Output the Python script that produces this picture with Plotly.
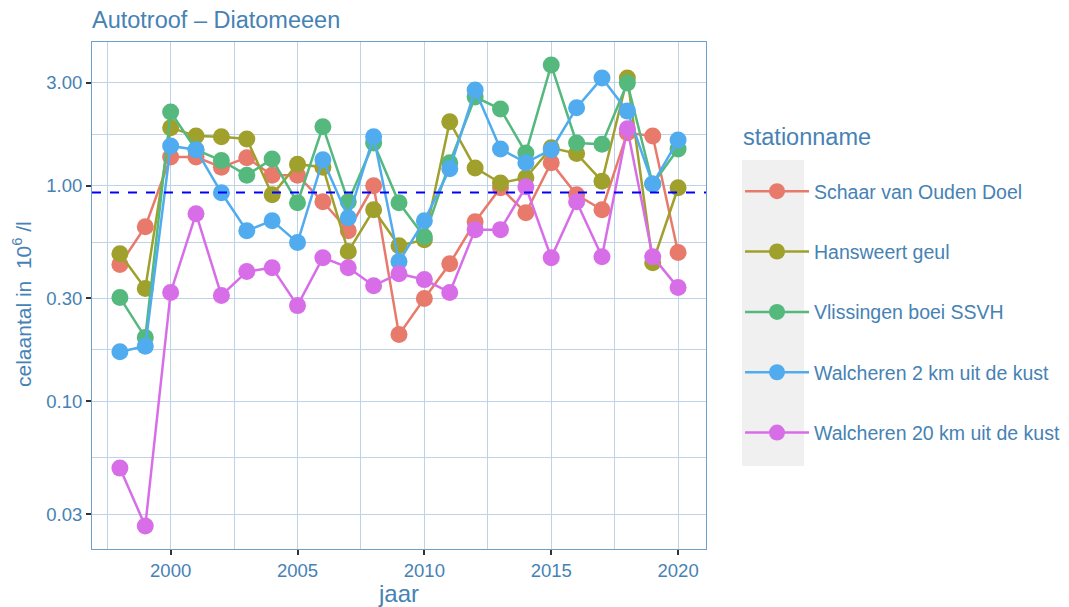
import plotly.graph_objects as go

# jaartallen
years = list(range(1998, 2021))

# celaantal (10^6 /l) per station
schaar_van_ouden_doel = [0.431, 0.646, 1.36, 1.36, 1.22, 1.35, 1.12, 1.12, 0.843, 0.619, 1.00, 0.204,
                         0.300, 0.435, 0.681, 0.979, 0.750, 1.28, 0.908, 0.774, 1.76, 1.70, 0.490]
hansweert_geul = [0.484, 0.334, 1.86, 1.70, 1.69, 1.65, 0.908, 1.26, 1.22, 0.495, 0.774, 0.527,
                  0.562, 1.98, 1.21, 1.03, 1.09, 1.50, 1.41, 1.05, 3.16, 0.440, 0.979]
vlissingen_boei_ssvh = [0.303, 0.198, 2.20, 1.47, 1.31, 1.12, 1.33, 0.834, 1.88, 0.843, 1.58, 0.834,
                        0.580, 1.28, 2.58, 2.27, 1.42, 3.63, 1.58, 1.56, 3.00, 1.02, 1.48]
walcheren_2km = [0.170, 0.180, 1.53, 1.47, 0.928, 0.619, 0.689, 0.545, 1.32, 0.711, 1.69, 0.445,
                 0.689, 1.20, 2.78, 1.48, 1.28, 1.47, 2.30, 3.16, 2.22, 1.02, 1.63]
walcheren_20km = [0.049, 0.0264, 0.320, 0.742, 0.310, 0.400, 0.417, 0.278, 0.464, 0.417, 0.344, 0.391,
                  0.367, 0.320, 0.626, 0.626, 0.989, 0.464, 0.843, 0.469, 1.84, 0.469, 0.337]

station_names = ["Schaar van Ouden Doel", "Hansweert geul", "Vlissingen boei SSVH",
                 "Walcheren 2 km uit de kust", "Walcheren 20 km uit de kust"]
station_values = [schaar_van_ouden_doel, hansweert_geul, vlissingen_boei_ssvh,
                  walcheren_2km, walcheren_20km]

# referentielijn
threshold = 0.93

y_tickvals = [0.03, 0.1, 0.3, 1, 3]
y_ticktext = ["0.03", "0.10", "0.30", "1.00", "3.00"]
y_minorvals = [0.0548, 0.1732, 0.5477, 1.732]

colors = ["#E87A6C", "#A0A02D", "#55B97D", "#50ACEE", "#D76EE8"]
text_color = "#4682B4"
grid_color = "#bcd3e8"
font_family = "Liberation Sans, Arial, sans-serif"

# de pagina heeft 8px body-marge, dus alles 8px kleiner/verschoven
W, H = 1061, 599
L, T = 84, 34
PW, PH = 614, 507


def px_x(x):
    # pixel (pagina) -> paper x
    return (x - 8 - L) / PW


def px_y(y):
    return (T + PH - (y - 8)) / PH


fig = go.Figure()

for i, (name, vals) in enumerate(zip(station_names, station_values)):
    fig.add_trace(
        go.Scatter(x=years, y=vals, mode='lines+markers', name=name,
                   line=dict(color=colors[i], width=2.5),
                   marker=dict(color=colors[i], size=17, line=dict(width=0)),
                   legendgroup=name)
    )

fig.add_hline(y=threshold, line=dict(color="#0000FF", width=2, dash='dash'), layer='above')

# grijze achtergrond achter de legendasymbolen (zoals ggplot)
fig.add_shape(type='rect', xref='paper', yref='paper',
              x0=px_x(742), x1=px_x(804), y0=px_y(466), y1=px_y(160),
              fillcolor='#f0f0f0', line=dict(width=0), layer='below')

fig.add_annotation(text="stationname", xref='paper', yref='paper', x=px_x(741), y=px_y(137),
                   xanchor='left', yanchor='middle', showarrow=False,
                   font=dict(size=23.5, color=text_color))

# y-as titel als annotatie (beter te positioneren)
fig.add_annotation(text="celaantal in  10<sup>6</sup> /l", xref='paper', yref='paper',
                   x=px_x(22), y=px_y(304), xanchor='center', yanchor='middle',
                   textangle=-90, showarrow=False, font=dict(size=21, color=text_color))

fig.update_layout(
    width=W, height=H,
    margin=dict(l=L, r=W - L - PW, t=T, b=H - T - PH, autoexpand=False),
    paper_bgcolor='white',
    plot_bgcolor='white',
    font=dict(family=font_family, color=text_color, size=18),
    title=dict(text="Autotroof – Diatomeeen", x=L / W, xanchor='left', xref='container',
               y=1 - 12 / H, yanchor='middle', font=dict(size=23.5, color=text_color)),
    xaxis=dict(
        title=dict(text="jaar", font=dict(size=24), standoff=10),
        automargin=False,
        range=[1996.9, 2021.1],
        tickvals=[2000, 2005, 2010, 2015, 2020],
        ticks='outside', ticklen=5, tickcolor='#333333', tickwidth=1.5,
        tickfont=dict(size=18.5),
        showgrid=True, gridcolor=grid_color, gridwidth=1,
        minor=dict(tick0=1997.5, dtick=5, showgrid=True, gridcolor=grid_color, gridwidth=1, ticks=''),
        showline=True, linecolor='#6f9fcb', linewidth=1, mirror=True,
        zeroline=False,
    ),
    yaxis=dict(
        automargin=False,
        type='log',
        range=[-1.685, 0.667],
        tickvals=y_tickvals, ticktext=y_ticktext,
        ticks='outside', ticklen=5, tickcolor='#333333', tickwidth=1.5,
        tickfont=dict(size=18.5),
        showgrid=True, gridcolor=grid_color, gridwidth=1,
        minor=dict(tickvals=y_minorvals, showgrid=True, gridcolor=grid_color, gridwidth=1, ticks=''),
        showline=True, linecolor='#6f9fcb', linewidth=1, mirror=True,
        zeroline=False,
    ),
    legend=dict(
        x=px_x(740), xanchor='left', y=px_y(172), yanchor='top',
        bgcolor='rgba(0,0,0,0)',
        font=dict(size=19.5),
        traceorder='grouped',
        tracegroupgap=32,
        itemwidth=64,
    ),
)

fig.write_html("out.html")
